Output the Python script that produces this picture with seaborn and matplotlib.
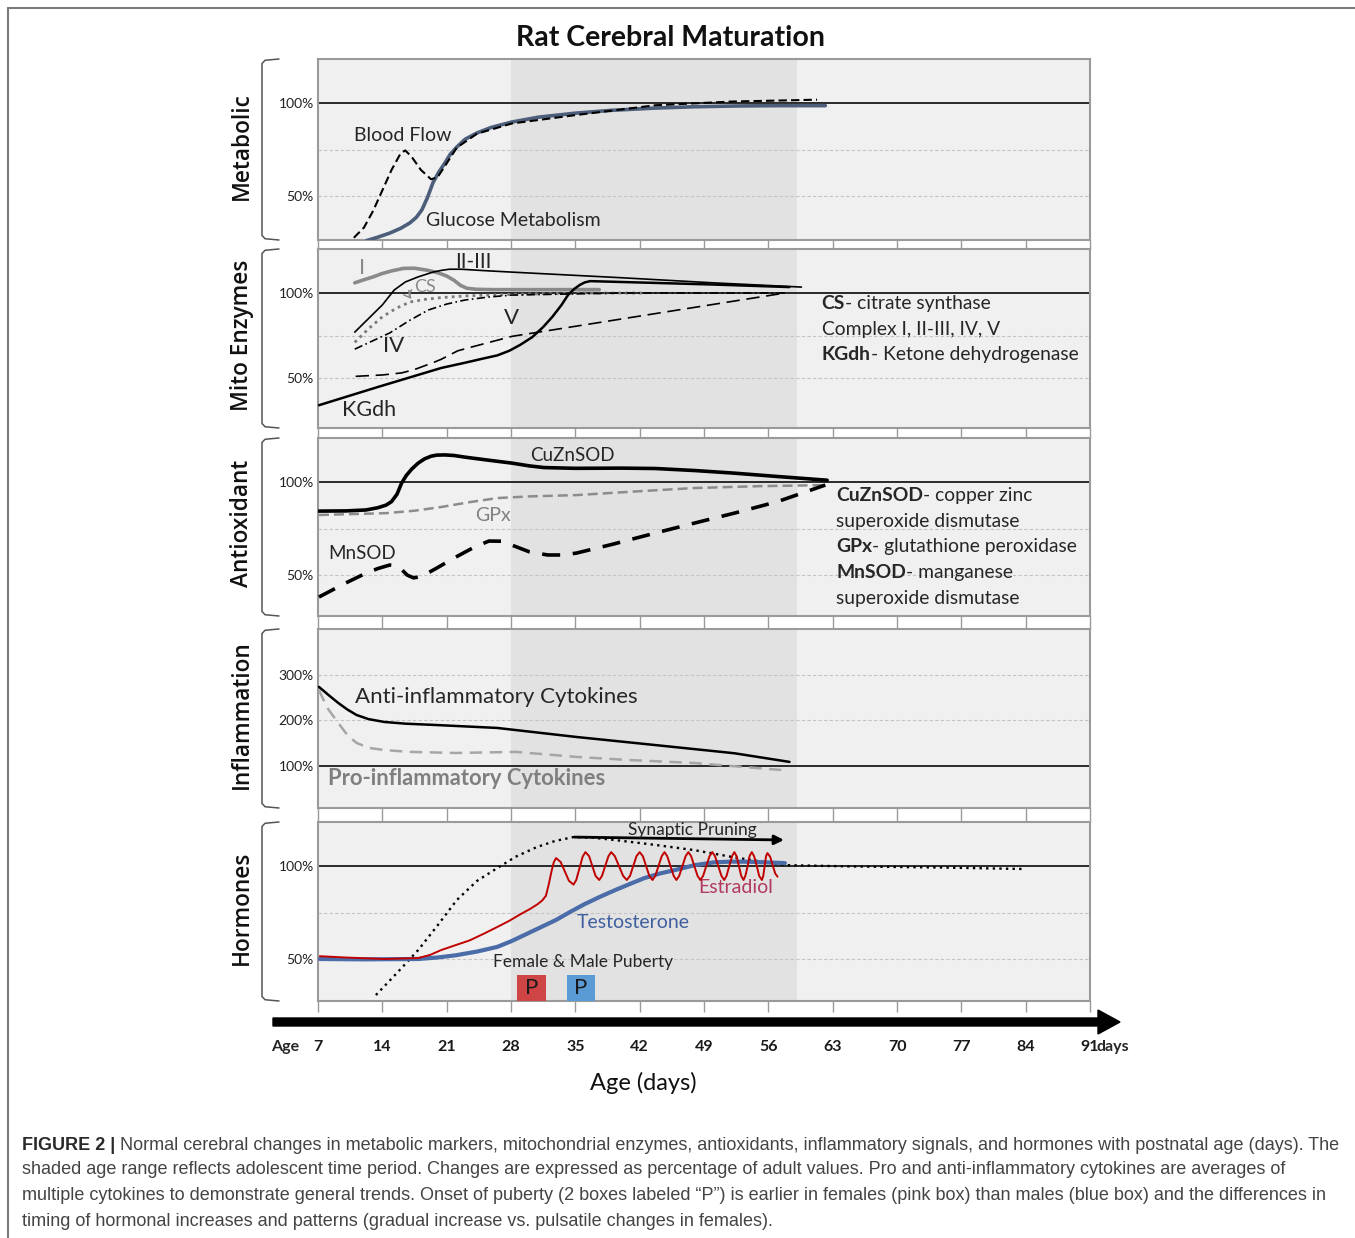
import numpy as np
import pandas as pd
import matplotlib
matplotlib.use("Agg")
import matplotlib.pyplot as plt
import seaborn as sns
from matplotlib.patches import Rectangle, FancyArrow
from matplotlib.lines import Line2D
from matplotlib.text import Annotation

# ---------------- data ----------------
week_days = [7, 14, 21, 28, 35, 42, 49, 56, 63, 70, 77, 84, 91]
adolescence = [28, 59.1]

# Metabolic
blood_day = [10.9, 12.0, 13.0, 14.0, 15.0, 16.0, 16.5, 17.2, 18.2, 19.3, 20.0, 20.8, 22.1, 24.3, 28.1, 35.0, 43.7, 52.0, 61.3]
blood_val = [27.5, 33, 42, 53, 64, 73, 74.5, 71, 64, 59, 60, 66, 76, 83.5, 89, 93.5, 98.8, 100.8, 101.8]
gluc_day = [12.3, 13.5, 14.8, 16.0, 17.0, 17.7, 18.3, 18.9, 19.5, 20.1, 20.8, 21.4, 22.1, 23.0, 24.3, 25.8, 28.1, 31.0, 35.1, 39.0, 43.7, 48.0, 52.3, 57.0, 62.2]
gluc_val = [26, 27.8, 30, 32.6, 35.5, 38.5, 42.5, 49, 57, 62.5, 67.7, 72.5, 76.3, 80.5, 83.9, 86.8, 89.8, 92.4, 94.6, 96.1, 97.3, 98.0, 98.4, 98.6, 98.6]

# Mito enzymes
c1_day = [11.0, 12.0, 13.0, 14.0, 15.0, 16.3, 17.5, 18.8, 20.0, 21.0, 21.8, 22.5, 23.2, 24.2, 26.0, 37.6]
c1_val = [106, 107.8, 109.5, 111.5, 113, 114.5, 114.6, 113.5, 112, 110, 107.5, 104.5, 102.8, 102.2, 102, 102]
c23_day = [11.0, 12.5, 14.0, 15.3, 16.5, 17.9, 19.5, 20.5, 21.3, 22.6, 25.0, 28.1, 40.0, 50.0, 59.6]
c23_val = [77, 85, 93, 101.8, 106.5, 109.5, 112.3, 113.4, 114, 114, 113.2, 112.3, 109, 106, 103.5]
cs_day = [11.0, 12.5, 14.0, 15.5, 17.0, 18.7, 20.4, 23.0, 26.5, 35.0, 42.4]
cs_val = [71, 79, 86, 91, 94.7, 96.3, 97.3, 98.3, 99, 100, 100]
c4_day = [11.0, 13.0, 14.8, 17.0, 19.0, 21.0, 23.0, 25.5, 28.1, 40.0, 58.0]
c4_val = [67, 72, 76.5, 84, 90, 93.5, 95.9, 97.6, 98.8, 100, 100]
c5_day = [11.1, 14.0, 16.1, 17.5, 18.5, 19.5, 20.4, 22.2, 23.9, 26.0, 28.1, 57.8]
c5_val = [51, 51.8, 53, 55, 57, 59, 61, 66, 68.5, 71.5, 74.5, 100]
kgdh_day = [7.1, 13.5, 20.4, 23.0, 25.0, 26.5, 27.8, 29.0, 30.3, 31.5, 32.5, 33.5, 34.2, 34.9, 35.5, 36.0, 36.6, 40.0, 50.0, 58.3]
kgdh_val = [34, 44.7, 55.9, 59, 61.5, 63.3, 66, 69.5, 74, 80, 86, 93, 98.8, 102.5, 104.8, 106.2, 107, 106.5, 105, 103.5]

# Antioxidant
cuzn_day = [7.1, 10.0, 12.2, 13.5, 14.4, 15.0, 15.6, 16.1, 16.6, 17.2, 17.9, 18.6, 19.3, 19.9, 20.8, 21.8, 23.0, 25.5, 28.1, 30.0, 31.6, 35.0, 40.0, 43.7, 48.0, 52.3, 57.0, 62.4]
cuzn_val = [84.4, 84.5, 85, 86.2, 87.6, 89.5, 93.5, 99.5, 103.5, 107, 110.2, 112.5, 113.9, 114.5, 114.6, 114.3, 113.4, 111.8, 110.2, 108.7, 107.8, 107.4, 107.5, 107.3, 106.2, 104.8, 103, 101]
gpx_day = [7.1, 14.4, 17.5, 20.4, 23.5, 26.5, 30.0, 35.1, 41.0, 47.9, 55.0, 62.4]
gpx_val = [82.3, 83.3, 84.6, 86.6, 89.2, 91.4, 92.3, 93, 94.8, 96.8, 97.8, 98.4]
mnsod_day = [7.1, 10.0, 12.0, 13.5, 14.8, 15.5, 16.1, 16.7, 17.4, 18.3, 20.0, 22.0, 24.0, 25.6, 27.0, 28.1, 30.0, 32.0, 33.5, 35.1, 39.0, 43.7, 48.0, 52.3, 57.0, 62.2]
mnsod_val = [38.2, 45.7, 50.5, 53.5, 55.4, 55, 53, 50, 48.5, 49.3, 54, 59.7, 65, 68.3, 68.2, 66.1, 62.5, 60.8, 60.8, 61.8, 66.5, 72.6, 78, 83.3, 89.5, 98.4]

# Inflammation
anti_day = [7.1, 8.2, 9.2, 10.2, 11.2, 12.5, 14.2, 16.5, 19.9, 26.5, 35.1, 43.7, 52.3, 58.3]
anti_val = [273.8, 255, 238.6, 224, 212, 203, 196.8, 193, 190, 183.6, 163.8, 146, 128, 109]
pro_day = [7.1, 8.0, 9.2, 10.2, 11.2, 12.5, 14.2, 17.0, 22.0, 28.5, 35.1, 41.0, 47.9, 57.4]
pro_val = [267, 228, 194.6, 168, 150.6, 140, 135, 131, 128.6, 131, 120, 113, 106.6, 91.2]

# Hormones
testo_day = [7.2, 12.0, 17.9, 20.0, 22.0, 24.3, 26.5, 28.0, 29.5, 31.2, 32.9, 34.5, 36.0, 37.7, 39.3, 41.0, 42.5, 44.2, 45.8, 48.0, 50.1, 52.0, 54.0, 57.8]
testo_val = [50, 49.8, 50, 50.8, 52, 54, 56.5, 59.5, 63, 67, 71, 75.5, 79.5, 83.5, 87, 90.5, 93.5, 96, 97.8, 100.5, 102, 102.4, 102.3, 101.6]
estr_day = [7.2, 10.0, 14.2, 17.9, 19.2, 20.4, 22.0, 23.5, 25.0, 26.5, 27.8, 29.0, 30.1, 30.9, 31.4, 31.8, 32.1, 32.4, 32.65, 32.9,
            33.4, 33.85, 34.3, 34.8, 35.1, 35.45, 35.8, 36.1, 36.5, 36.85, 37.2, 37.6, 37.9, 38.25, 38.6, 38.9,
            39.3, 39.75, 40.2, 40.6, 40.95, 41.3, 41.65, 42.0, 42.35, 42.7, 43.05, 43.4, 43.7, 44.05, 44.4, 44.7,
            45.0, 45.35, 45.7, 46.0, 46.3, 46.65, 47.0, 47.3, 47.6, 47.95, 48.3, 48.6, 48.9, 49.25, 49.6, 49.9,
            50.2, 50.55, 50.9, 51.2, 51.45, 51.75, 52.05, 52.3, 52.55, 52.8, 53.05, 53.3, 53.5, 53.75, 53.95, 54.2,
            54.45, 54.75, 55.0, 55.3, 55.45, 55.6, 55.75, 55.9, 56.2, 56.5, 56.75, 57.0]
estr_val = [51.5, 50.8, 50, 50.5, 52.2, 54.8, 57.5, 60, 63.5, 67.2, 70.5, 74, 77, 79.5, 81.5, 84, 90, 97, 102, 104.3,
            102.2, 97.2, 92.1, 90, 92.5, 98.8, 105.1, 107.5, 105.3, 100, 94.7, 92.5, 94.7, 100, 105.3, 107.5,
            105.3, 100, 94.7, 92.5, 94.7, 100, 105.3, 107.5, 105.3, 100, 94.7, 92.5, 94.7, 100, 105.3, 107.5,
            105.3, 100, 94.7, 92.5, 94.7, 100, 105.3, 107.5, 105.3, 100, 94.7, 92.5, 94.7, 100, 105.3, 107.5,
            105.3, 100, 94.7, 92.5, 94.7, 100, 105.3, 107.5, 105.3, 100, 94.7, 92.5, 94.7, 100, 105.3, 107.5,
            105.3, 100, 94.7, 92.5, 94.7, 100, 105.3, 107, 105, 100, 96, 94.3]
prune_day = [13.3, 15.5, 17.9, 20.0, 22.1, 24.3, 26.5, 28.5, 30.8, 32.8, 34.8, 37.0, 39.3, 43.5, 47.9, 52.5, 57.8, 65.0, 75.0, 84.0]
prune_val = [30.6, 42, 54.8, 68, 81.7, 92, 98.9, 105, 110.2, 113.5, 115.6, 115.2, 114, 111.5, 108.6, 104.5, 100.5, 99.8, 99.2, 98.4]
puberty_start = [28.7, 34.1]
puberty_end = [31.8, 37.1]
pruning_span = [34.6, 58.0]

panel_names = ["Metabolic", "Mito Enzymes", "Antioxidant", "Inflammation", "Hormones"]

# ---------------- style / layout ----------------
sns.set_theme(style="white")
plt.rcParams['font.family'] = ['Lato', 'DejaVu Sans']

W, H = 1355, 1238
fig = plt.figure(figsize=(W / 100, H / 100), dpi=100)
XL, XR = 318, 1090

def fx(p):
    return p / W

def fy(p):
    return 1 - p / H

# (top px, bottom px, ylim, grid values, ytick values, gap below px)
layout = [
    (59, 240, (26.3, 123.7), [50, 75], [50, 100], 9),
    (249, 428, (20.6, 125.9), [50, 75], [50, 100], 10),
    (438, 616, (28.0, 123.7), [50, 75], [50, 100], 13),
    (629, 808, (7.7, 401.0), [200, 300], [100, 200, 300], 14),
    (822, 1001, (27.4, 123.7), [50, 75], [50, 100], 11),
]

axes = []
for i, (top, bot, ylim, grids, yt, gap) in enumerate(layout):
    ax = fig.add_axes([fx(XL), fy(bot), (XR - XL) / W, (bot - top) / H])
    ax.set_facecolor('#f0f0f0')
    ax.axvspan(adolescence[0], adolescence[1], color='#e2e2e2', zorder=0, lw=0)
    for g in grids:
        ax.axhline(g, color='#c4c4c4', lw=0.8, ls=(0, (3, 2)), zorder=1)
    ax.axhline(100, color='#1a1a1a', lw=1.3, zorder=2)
    ax.set_xlim(7, 91)
    ax.set_ylim(*ylim)
    ax.set_yticks(yt)
    ax.set_yticklabels([f"{v}%" for v in yt])
    ax.set_xticks(week_days)
    ax.tick_params(axis='y', length=0, pad=3, labelsize=10, labelcolor='#222222')
    ax.tick_params(axis='x', direction='out', length=gap * 0.72, width=1,
                   color='#9a9a9a', bottom=True, labelbottom=False)
    for s in ax.spines.values():
        s.set_color('#9a9a9a')
        s.set_linewidth(1.5)
    # bracket
    x0, x1 = (262 - XL) / (XR - XL), (279 - XL) / (XR - XL)
    ax.plot([x1, x0 + 0.004, x0, x0, x0 + 0.004, x1], [1.0, 0.993, 0.975, 0.025, 0.007, 0.0],
            transform=ax.transAxes, clip_on=False, color='#555555', lw=1.1)
    ax.text((242 - XL) / (XR - XL), 0.52, panel_names[i], transform=ax.transAxes,
            rotation=90, ha='center', va='center', fontsize=16.3, fontweight='semibold',
            family=['Open Sans', 'Lato', 'DejaVu Sans'], color='#111111')
    axes.append(ax)

ax1, ax2, ax3, ax4, ax5 = axes

def line(ax, d, v, **kw):
    sns.lineplot(x=d, y=v, ax=ax, estimator=None, sort=False, legend=False, **kw)

# ---- Metabolic
line(ax1, blood_day, blood_val, color='black', lw=1.5, linestyle=(0, (4, 2)), zorder=4)
line(ax1, gluc_day, gluc_val, color='#4d5e7a', lw=2.6, zorder=3)
ax1.text(10.9, 82.3, "Blood Flow", fontsize=14, ha='left', va='center')
ax1.text(18.75, 36.6, "Glucose Metabolism", fontsize=14, ha='left', va='center')

# ---- Mito
line(ax2, c1_day, c1_val, color='#8a8a8a', lw=2.6, zorder=3)
line(ax2, c23_day, c23_val, color='black', lw=1.2, zorder=4)
line(ax2, cs_day, cs_val, color='#7a7a7a', lw=2.0, linestyle=(0, (1, 1.5)), zorder=4)
line(ax2, c4_day, c4_val, color='black', lw=1.2, linestyle=(0, (5, 2, 1, 2)), zorder=4)
line(ax2, c5_day, c5_val, color='black', lw=1.2, linestyle=(0, (8, 4)), zorder=4)
line(ax2, kgdh_day, kgdh_val, color='black', lw=1.8, zorder=4)
ax2.text(11.8, 114.7, "I", fontsize=16, color='#8a8a8a', ha='center', va='center')
ax2.text(23.9, 118.2, "II-III", fontsize=15, ha='center', va='center')
ax2.text(18.6, 103.8, "CS", fontsize=13, color='#8a8a8a', ha='center', va='center')
ax2.annotate('', xy=(17.4, 95.3), xytext=(17.4, 103.0),
             arrowprops=dict(arrowstyle='->', color='#8a8a8a', lw=1.1,
                             connectionstyle='arc3,rad=0.6'))
ax2.text(15.2, 68.8, "IV", fontsize=16, ha='center', va='center')
ax2.text(28.1, 85.3, "V", fontsize=16, ha='center', va='center')
ax2.text(9.6, 31.2, "KGdh", fontsize=15.5, ha='left', va='center')

def bold_pair(ax, x, y, bold, rest, size):
    t = ax.text(x, y, bold, fontsize=size, fontweight='bold', ha='left', va='center')
    ax.annotate(rest, xy=(1, 0), xycoords=t, ha='left', va='bottom', fontsize=size)

leg_size = 13.9
bold_pair(ax2, 61.8, 94.1, "CS", "- citrate synthase", leg_size)
ax2.text(61.8, 78.8, "Complex I, II-III, IV, V", fontsize=leg_size, ha='left', va='center')
bold_pair(ax2, 61.8, 64.1, "KGdh", "- Ketone dehydrogenase", leg_size)

# ---- Antioxidant
line(ax3, cuzn_day, cuzn_val, color='black', lw=2.6, zorder=4)
line(ax3, gpx_day, gpx_val, color='#8c8c8c', lw=1.8, linestyle=(0, (4, 2)), zorder=3)
line(ax3, mnsod_day, mnsod_val, color='black', lw=2.6, linestyle=(0, (5, 3.5)), zorder=4)
ax3.text(34.7, 114.5, "CuZnSOD", fontsize=13.5, ha='center', va='center')
ax3.text(26.0, 82.3, "GPx", fontsize=14, color='#808080', ha='center', va='center')
ax3.text(11.8, 61.8, "MnSOD", fontsize=13.5, ha='center', va='center')
bold_pair(ax3, 63.4, 93.0, "CuZnSOD", "- copper zinc", leg_size)
ax3.text(63.4, 79.0, "superoxide dismutase", fontsize=leg_size, ha='left', va='center')
bold_pair(ax3, 63.4, 65.6, "GPx", "- glutathione peroxidase", leg_size)
bold_pair(ax3, 63.4, 51.6, "MnSOD", "- manganese", leg_size)
ax3.text(63.4, 37.6, "superoxide dismutase", fontsize=leg_size, ha='left', va='center')

# ---- Inflammation
line(ax4, anti_day, anti_val, color='black', lw=1.8, zorder=4)
line(ax4, pro_day, pro_val, color='#a6a6a6', lw=1.8, linestyle=(0, (5, 3)), zorder=3)
ax4.text(11.0, 251.6, "Anti-inflammatory Cytokines", fontsize=16, ha='left', va='center')
ax4.text(8.1, 73.6, "Pro-inflammatory Cytokines", fontsize=15.8, fontweight='bold',
         color='#7f7f7f', ha='left', va='center')

# ---- Hormones
line(ax5, prune_day, prune_val, color='black', lw=1.7, linestyle=(0, (1, 1.8)), zorder=3)
line(ax5, testo_day, testo_val, color='#4a6ca8', lw=3.0, zorder=4)
line(ax5, estr_day, estr_val, color='#c00000', lw=1.4, zorder=5)
ax5.annotate('', xy=(pruning_span[1], 114.0), xytext=(pruning_span[0], 115.6),
             arrowprops=dict(arrowstyle='-|>', lw=2.0, color='black', mutation_scale=14))
ax5.text(47.7, 119.6, "Synaptic Pruning", fontsize=12.5, ha='center', va='center')
ax5.text(52.5, 88.2, "Estradiol", fontsize=14, color='#b23a5e', ha='center', va='center')
ax5.text(41.3, 69.9, "Testosterone", fontsize=14, color='#3f5f9f', ha='center', va='center')
ax5.text(35.8, 48.4, "Female & Male Puberty", fontsize=12.5, ha='center', va='center')
box_cols = ['#cf4444', '#5b9bd5']
for s, e, c in zip(puberty_start, puberty_end, box_cols):
    ax5.add_patch(Rectangle((s, layout[4][2][0]), e - s, 41.4 - layout[4][2][0],
                            facecolor=c, edgecolor='none', zorder=6, clip_on=False))
    ax5.text((s + e) / 2, 34.5, "P", fontsize=16, ha='center', va='center',
             color='#1a1a1a', zorder=7)

# x tick labels under the big arrow
ax5.set_xticklabels([str(d) for d in week_days])
ax5.tick_params(axis='x', labelbottom=True, pad=20, labelsize=11.5,
                labelcolor='#1a1a1a')
for lb in ax5.get_xticklabels():
    lb.set_fontweight('bold')
for ax in axes:
    ax.set_xlabel('')
    ax.set_ylabel('')

fig.text(fx(285), fy(1047), "Age", fontsize=11.5, fontweight='bold', ha='center', va='center')
fig.text(fx(1113), fy(1047), "days", fontsize=11.5, fontweight='bold', ha='center', va='center')
fig.text(fx(643), fy(1083), "Age (days)", fontsize=17, ha='center', va='center', color='#111111')

# big age arrow
fig.add_artist(FancyArrow(fx(273), fy(1022), fx(1120 - 273), 0, width=8 / H,
                          head_width=24 / H, head_length=22 / W,
                          length_includes_head=True, transform=fig.transFigure,
                          color='black'))

# title
fig.text(fx(671), fy(38), "Rat Cerebral Maturation", fontsize=20.5, fontweight='bold',
         ha='center', va='center', color='#111111')

# frame (top + left)
fig.add_artist(Line2D([fx(8), 1.0], [fy(8), fy(8)], transform=fig.transFigure,
                      color='#7a7a7a', lw=1.5))
fig.add_artist(Line2D([fx(8), fx(8)], [fy(8), 0.0], transform=fig.transFigure,
                      color='#7a7a7a', lw=1.5))

# caption
cap_font = ['Liberation Sans', 'DejaVu Sans']
cap_lines = [
    " Normal cerebral changes in metabolic markers, mitochondrial enzymes, antioxidants, inflammatory signals, and hormones with postnatal age (days). The",
    "shaded age range reflects adolescent time period. Changes are expressed as percentage of adult values. Pro and anti-inflammatory cytokines are averages of",
    "multiple cytokines to demonstrate general trends. Onset of puberty (2 boxes labeled \u201cP\u201d) is earlier in females (pink box) than males (blue box) and the differences in",
    "timing of hormonal increases and patterns (gradual increase vs. pulsatile changes in females).",
]
cap_y = [1145, 1170, 1195, 1221]
cap_size = 12.2
tb = fig.text(fx(22), fy(cap_y[0]), "FIGURE 2 |", fontsize=cap_size, fontweight='bold',
              family=cap_font, color='#2a2a2a', ha='left', va='center')
rest0 = Annotation(cap_lines[0], xy=(1, 0), xycoords=tb, ha='left', va='bottom',
                   fontsize=cap_size, family=cap_font, color='#444444')
fig.add_artist(rest0)
others = []
for txt, yy in zip(cap_lines[1:], cap_y[1:]):
    others.append(fig.text(fx(22), fy(yy), txt, fontsize=cap_size, family=cap_font,
                           color='#444444', ha='left', va='center'))
# fit first caption line to the reference width (22 -> 1338 px)
r = fig.canvas.get_renderer()
wtot = tb.get_window_extent(r).width + rest0.get_window_extent(r).width
new_size = cap_size * (1338 - 22) / wtot
for t in [tb, rest0] + others:
    t.set_fontsize(new_size)

fig.savefig("out.png", dpi=100, facecolor='white')
